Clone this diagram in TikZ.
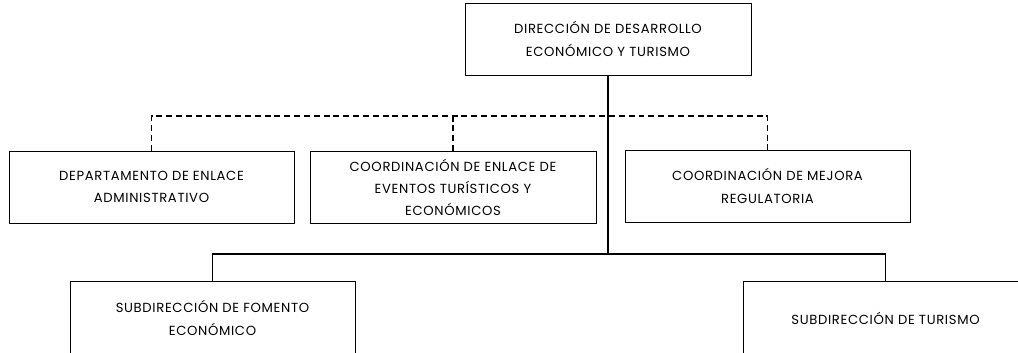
\documentclass[tikz,border=0pt]{standalone}
\usepackage{fontspec}
\setmainfont{Poppins}[LetterSpace=5]
\usepackage{tikz}

\begin{document}
\begin{tikzpicture}[
  caja/.style={draw, line width=0.5pt, minimum width=5.7cm, minimum height=1.44cm,
    align=center, inner sep=0pt, font=\fontsize{7.5}{12.6}\selectfont},
  linea/.style={line width=0.8pt},
  tratto/.style={line width=0.75pt, dash pattern=on 3.4pt off 2.2pt}]
  \useasboundingbox (0,0) rectangle (20.36,7.04);

  % direccion
  \node[caja, minimum width=5.72cm] (dir) at (12.16,6.26) {DIRECCIÓN DE DESARROLLO\\ECONÓMICO Y TURISMO};

  % staff
  \node[caja] (dep) at (3.03,3.30) {DEPARTAMENTO DE ENLACE\\ADMINISTRATIVO};
  \node[caja, minimum width=5.72cm] (eve) at (9.06,3.29) {COORDINACIÓN DE ENLACE DE\\EVENTOS TURÍSTICOS Y\\ECONÓMICOS};
  \node[caja] (mej) at (15.35,3.32) {COORDINACIÓN DE MEJORA\\REGULATORIA};

  % subdirecciones
  \node[caja, minimum height=1.48cm] (fom) at (4.25,0.68) {SUBDIRECCIÓN DE FOMENTO\\ECONÓMICO};
  \node[caja, minimum height=1.48cm] (tur) at (17.71,0.68) {SUBDIRECCIÓN DE TURISMO};

  % lineas
  \coordinate (staff) at (0,4.72);
  \coordinate (bus) at (0,1.96);
  \draw[tratto] (dep.north) -- (dep.north |- staff) -- (mej.north |- staff) -- (mej.north);
  \draw[tratto] (eve.north) -- (eve.north |- staff);
  \draw[linea] (dir.south) -- (dir.south |- bus);
  \draw[linea] (fom.north) -- (fom.north |- bus) -- (tur.north |- bus) -- (tur.north);
\end{tikzpicture}
\end{document}
